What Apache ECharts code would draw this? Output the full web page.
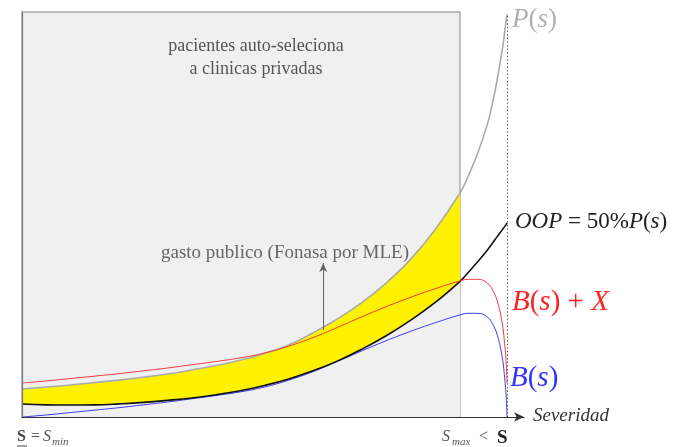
<!DOCTYPE html>
<html>
<head>
<meta charset="utf-8">
<script src="https://cdn.jsdelivr.net/npm/echarts@6/dist/echarts.min.js"></script>
<style>
  html, body { margin: 0; padding: 0; background: #fff; }
  #chart { width: 682px; height: 447px; }
</style>
</head>
<body>
<div id="chart"></div>
<script>
// Severity grid (0 = S_min, 100 = upper bound of severity)
const severity = [0, 5, 10, 15, 20, 25, 30, 35, 40, 45, 50, 55, 60, 65, 70, 75, 80, 85, 90.3, 92, 94, 96, 97, 98, 99, 99.5, 99.8, 100];
// Price P(s)
const priceP = [6.9, 7.4, 7.9, 8.5, 9.1, 9.8, 10.6, 11.6, 12.7, 14.0, 15.7, 17.8, 20.8, 24.2, 28.2, 33.0, 38.8, 46.0, 55.3, 59.5, 65.3, 72.5, 77.5, 83.5, 90.5, 94.8, 97.6, 99.5];
// Out-of-pocket payment OOP = 50% P(s)
const oop = [3.2, 3.0, 2.95, 3.0, 3.25, 3.6, 4.1, 4.7, 5.5, 6.5, 7.8, 9.4, 11.4, 13.8, 16.7, 20.0, 23.8, 28.1, 33.5, 35.7, 38.4, 41.3, 42.9, 44.6, 46.2, 47.0, 47.5, 47.9];
// Benefit B(s)
const benefitB = [0, 0.5, 1.1, 1.7, 2.3, 3.0, 3.7, 4.5, 5.3, 6.2, 7.4, 9.1, 11.2, 13.7, 16.3, 18.8, 21.1, 23.2, 25.2, 25.6, 25.6, 24.6, 23.0, 20.2, 14.8, 9.8, 5.5, 0];
// Fixed shift X added to the benefit
const shiftX = 8.4;
// Severity where the private-clinic region ends
const sMax = 90.3;

const pairs = (ys) => severity.map((s, i) => [s, ys[i]]);
const pairsUpTo = (ys, limit) => pairs(ys).filter(p => p[0] <= limit);
const benefitPlusX = benefitB.map(v => v + shiftX);

const serif = "'Liberation Serif', 'DejaVu Serif', serif";
const SMOOTH = 0.45;

function mathLabel(x, y, text, size, color) {
  return {
    type: 'text', x: x, y: y, z: 100,
    style: {
      text: text, verticalAlign: 'middle', fill: color,
      rich: {
        i: { font: 'italic ' + size + 'px ' + serif, fill: color },
        r: { font: size + 'px ' + serif, fill: color }
      }
    }
  };
}
function plainText(x, y, text, font, color, align) {
  return { type: 'text', x: x, y: y, z: 100,
    style: { text: text, font: font, fill: color, align: align || 'left', verticalAlign: 'middle' } };
}
function curve(name, ys, color, width, z) {
  return { name: name, type: 'line', z: z, data: pairs(ys), smooth: SMOOTH,
    showSymbol: false, silent: true, lineStyle: { color: color, width: width } };
}

const chart = echarts.init(document.getElementById('chart'), null, { renderer: 'canvas' });

chart.setOption({
  animation: false,
  backgroundColor: '#ffffff',
  grid: { left: 22, top: 12, width: 502, height: 405, containLabel: false },
  xAxis: {
    type: 'value', min: 0, max: 103.5, z: 10,
    axisLine: { show: true, symbol: ['none', 'arrow'], symbolSize: [7, 10], lineStyle: { color: '#333', width: 1 } },
    axisTick: { show: false }, axisLabel: { show: false }, splitLine: { show: false }
  },
  yAxis: {
    type: 'value', min: 0, max: 100, z: 10,
    axisLine: { show: true, lineStyle: { color: '#777', width: 1.2 } },
    axisTick: { show: false }, axisLabel: { show: false }, splitLine: { show: false }
  },
  series: [
    {
      // private-clinic region box and the upper severity bound
      type: 'line', data: [], z: 1, silent: true,
      markArea: {
        silent: true,
        itemStyle: { color: '#f0f0f0', borderColor: '#a8a8a8', borderWidth: 1.4 },
        data: [[{ coord: [0, 100] }, { coord: [sMax, 0] }]]
      },
      markLine: {
        silent: true, symbol: ['none', 'none'], label: { show: false },
        lineStyle: { color: '#444', type: [1.2, 2.4], width: 1 },
        data: [[{ coord: [100, 0] }, { coord: [100, 99.5] }]]
      }
    },
    {
      // public spending band: yellow under P(s) up to S_max ...
      type: 'line', z: 2, silent: true, data: pairsUpTo(priceP, sMax), smooth: SMOOTH,
      showSymbol: false, lineStyle: { width: 0 }, areaStyle: { color: '#fff200', opacity: 1 }
    },
    {
      // ... with the box background restored under OOP
      type: 'line', z: 2, silent: true, data: pairsUpTo(oop, sMax), smooth: SMOOTH,
      showSymbol: false, lineStyle: { width: 0 }, areaStyle: { color: '#f0f0f0', opacity: 1 }
    },
    curve('P(s)', priceP, '#aaaaaa', 1.6, 3),
    curve('B(s)', benefitB, '#3a3af5', 1, 4),
    curve('OOP', oop, '#111111', 1.6, 5),
    Object.assign(curve('B(s)+X', benefitPlusX, '#f23a3a', 1, 6), {
      markLine: {
        silent: true, symbol: ['none', 'arrow'], symbolSize: [6, 9], label: { show: false },
        lineStyle: { color: '#666', type: 'solid', width: 1 },
        data: [[{ coord: [62.1, 21.5] }, { coord: [62.1, 38] }]]
      }
    })
  ],
  graphic: [
    plainText(256, 46, 'pacientes auto-seleciona', '18px ' + serif, '#555', 'center'),
    plainText(256, 69, 'a clinicas privadas', '18px ' + serif, '#555', 'center'),
    plainText(285, 253, 'gasto publico (Fonasa por MLE)', '19px ' + serif, '#666', 'center'),
    mathLabel(512, 20, '{i|P}{r|(}{i|s}{r|)}', 27, '#b0b0b0'),
    mathLabel(515, 222, '{i|OOP}{r| = 50%}{i|P}{r|(}{i|s}{r|)}', 23, '#222'),
    mathLabel(512, 302, '{i|B}{r|(}{i|s}{r|) + }{i|X}', 29, '#f22'),
    mathLabel(510, 378, '{i|B}{r|(}{i|s}{r|)}', 29, '#33f'),
    plainText(533, 416, 'Severidad', 'italic 19px ' + serif, '#333'),
    // lower bound label
    plainText(17, 437, 'S', 'bold 16px ' + serif, '#444'),
    { type: 'line', z: 100, shape: { x1: 17, y1: 446, x2: 27, y2: 446 }, style: { stroke: '#444', lineWidth: 1 } },
    plainText(31, 437, '=', '16px ' + serif, '#555'),
    plainText(43, 437, 'S', 'italic 16px ' + serif, '#555'),
    plainText(52, 442, 'min', 'italic 11px ' + serif, '#555'),
    // upper bound label
    plainText(442, 437, 'S', 'italic 16px ' + serif, '#555'),
    plainText(452, 442, 'max', 'italic 11px ' + serif, '#555'),
    plainText(479, 437, '<', '16px ' + serif, '#555'),
    plainText(497, 438, 'S', 'bold 19px ' + serif, '#222')
  ]
});
</script>
</body>
</html>
